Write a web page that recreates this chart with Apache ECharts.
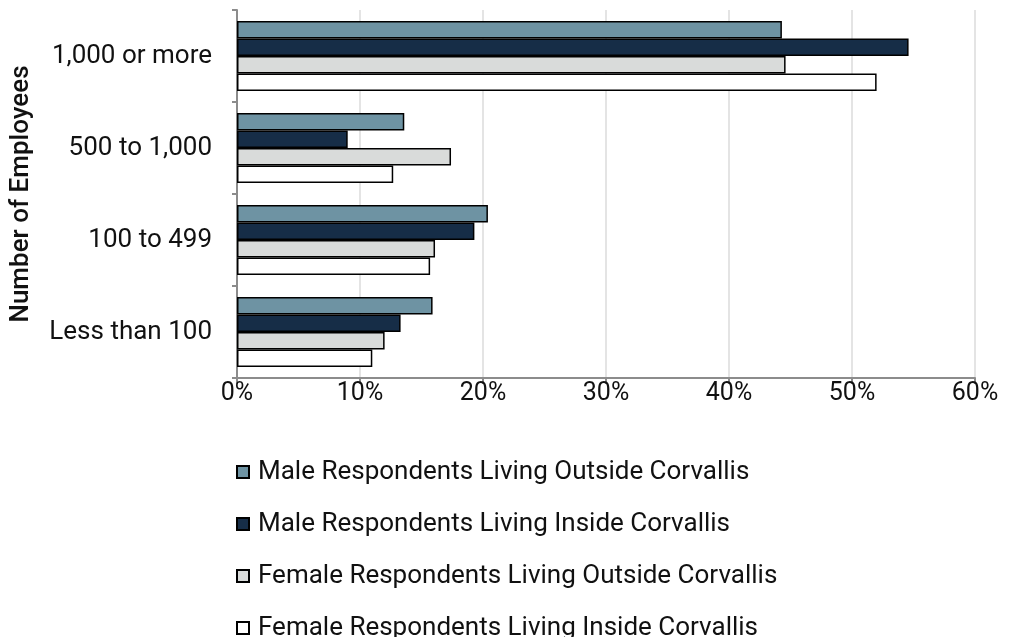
<!DOCTYPE html>
<html><head><meta charset="utf-8">
<script src="https://cdn.jsdelivr.net/npm/echarts@6/dist/echarts.min.js"></script>
<style>html,body{margin:0;padding:0;background:#fff}#c{width:1011px;height:637px}</style>
</head><body><div id="c"></div>
<script>
const categories = ['1,000 or more', '500 to 1,000', '100 to 499', 'Less than 100'];
const seriesNames = ['Male Respondents Living Outside Corvallis', 'Male Respondents Living Inside Corvallis', 'Female Respondents Living Outside Corvallis', 'Female Respondents Living Inside Corvallis'];
const maleOutside = [44.3, 13.6, 20.4, 15.9];
const maleInside = [54.6, 9.0, 19.3, 13.3];
const femaleOutside = [44.6, 17.4, 16.1, 12.0];
const femaleInside = [52.0, 12.7, 15.7, 11.0];
const xTicks = [0, 10, 20, 30, 40, 50, 60];
const colors = ['#6E93A3', '#162D47', '#D9DBDA', '#FFFFFF'];
const values = [maleOutside, maleInside, femaleOutside, femaleInside];
const FONT = 'Roboto, sans-serif';
const chart = echarts.init(document.getElementById('c'), null, {renderer: 'canvas'});
chart.setOption({
  animation: false,
  textStyle: {fontFamily: FONT},
  grid: {left: 237, right: 36, top: 10, bottom: 259, containLabel: false, outerBoundsMode: 'none'},
  legend: {
    orient: 'vertical', left: 236, top: 459, height: 400, itemGap: 26, padding: 0,
    itemWidth: 12, itemHeight: 12, icon: 'rect',
    textStyle: {fontSize: 26, color: '#111', fontFamily: FONT, padding: [0,0,0,4]},
    data: seriesNames
  },
  xAxis: {
    type: 'value', min: xTicks[0], max: xTicks[xTicks.length - 1], interval: 10,
    axisLabel: {formatter: v => v + '%', fontSize: 25, color: '#111', margin: 3, fontFamily: FONT},
    axisLine: {show: true, lineStyle: {color: '#8c8c8c', width: 2}},
    axisTick: {show: true, length: 6, lineStyle: {color: '#8c8c8c', width: 2}},
    splitLine: {show: true, lineStyle: {color: '#e4e4e4', width: 2}}
  },
  yAxis: {
    type: 'category', data: categories, inverse: true,
    name: 'Number of Employees', nameLocation: 'middle', nameGap: 203, nameRotate: 90,
    nameTextStyle: {fontSize: 26, color: '#111', fontFamily: FONT, fontWeight: 500},
    axisLabel: {fontSize: 26, color: '#111', margin: 25, fontFamily: FONT},
    axisLine: {show: true, lineStyle: {color: '#8c8c8c', width: 2}},
    axisTick: {show: true, length: 5, inside: false, lineStyle: {color: '#8c8c8c', width: 2}},
    splitLine: {show: false}
  },
  series: seriesNames.map((n, i) => ({
    name: n, type: 'bar', data: values[i],
    barCategoryGap: '24%', barGap: '0%',
    itemStyle: {color: colors[i], borderColor: '#000', borderWidth: 1.5}
  }))
});
</script></body></html>
